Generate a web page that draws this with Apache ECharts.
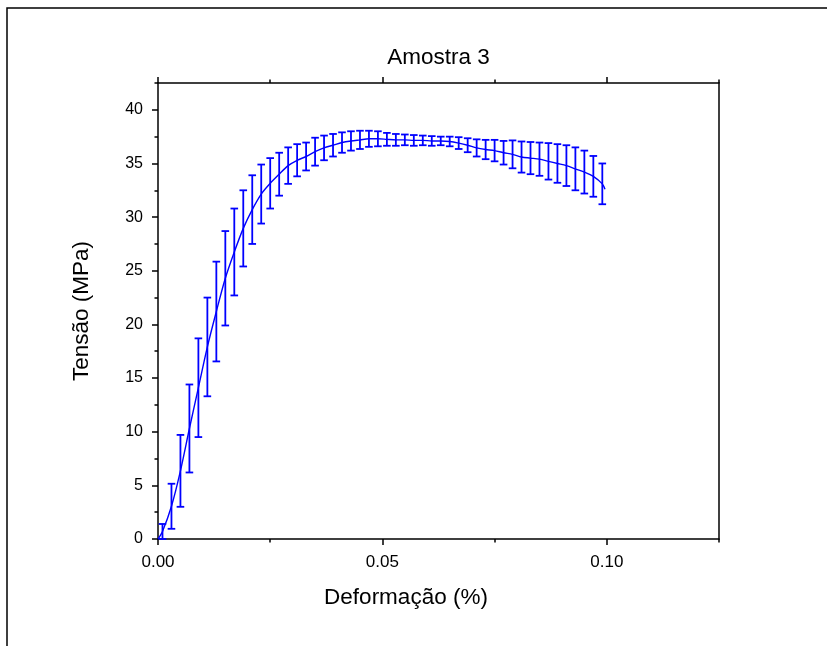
<!DOCTYPE html>
<html>
<head>
<meta charset="utf-8">
<title>Amostra 3</title>
<script src="https://cdn.jsdelivr.net/npm/echarts@6/dist/echarts.min.js"></script>
<style>
    html, body { margin: 0; padding: 0; background: #fff; }
    #chart { width: 827px; height: 646px; }
</style>
</head>
<body>
<div id="chart"></div>
<script>
    // deformação (%) dos pontos com barra de erro
    const strain = [
        0.001, 0.003, 0.005, 0.007, 0.009, 0.011, 0.013, 0.015, 0.017, 0.019,
        0.021, 0.023, 0.025, 0.027, 0.029, 0.031, 0.033, 0.035, 0.037, 0.039,
        0.041, 0.043, 0.045, 0.047, 0.049, 0.051, 0.053, 0.055, 0.057, 0.059,
        0.061, 0.063, 0.065, 0.067, 0.069, 0.071, 0.073, 0.075, 0.077, 0.079,
        0.081, 0.083, 0.085, 0.087, 0.089, 0.091, 0.093, 0.095, 0.097, 0.099
    ]
    // tensão média (MPa)
    const stress = [
        0.7, 3.05, 6.35, 10.3, 14.1, 17.9, 21.2, 24.3, 26.75, 28.95,
        30.7, 32.15, 33.15, 34.0, 34.8, 35.3, 35.65, 36.1, 36.45, 36.7,
        36.95, 37.1, 37.2, 37.3, 37.3, 37.25, 37.2, 37.2, 37.15, 37.15,
        37.1, 37.1, 37.05, 36.9, 36.7, 36.45, 36.3, 36.2, 36.0, 35.85,
        35.6, 35.5, 35.4, 35.2, 35.0, 34.8, 34.5, 34.2, 33.8, 33.1
    ]
    // desvio (MPa)
    const stressErr = [
        0.7, 2.1, 3.35, 4.1, 4.6, 4.6, 4.65, 4.4, 4.05, 3.55,
        3.2, 2.75, 2.35, 2.0, 1.7, 1.5, 1.3, 1.3, 1.15, 1.05,
        0.95, 0.9, 0.85, 0.75, 0.7, 0.6, 0.55, 0.5, 0.5, 0.45,
        0.45, 0.4, 0.45, 0.55, 0.65, 0.8, 0.9, 1.0, 1.1, 1.3,
        1.45, 1.5, 1.55, 1.7, 1.8, 1.9, 2.0, 2.0, 1.9, 1.9
    ]
    // inicio e fim da curva
    const curveStart = [0, 0]
    const curveEnd = [0.0996, 32.6]

    const xMajor = [0, 0.05, 0.10]
    const yMajor = [0, 5, 10, 15, 20, 25, 30, 35, 40]

    const FONT = 'Liberation Sans'
    const BLUE = '#0000ff'
    const NAME_SIZE = 22.5

    let curve = [curveStart]
    let bars = []
    for (let i = 0; i < strain.length; i++) {
        curve.push([strain[i], stress[i]])
        bars.push([strain[i], stress[i] - stressErr[i], stress[i] + stressErr[i]])
    }
    curve.push(curveEnd)

    const axisLine = { show: true, onZero: false, lineStyle: { color: '#000', width: 1.5 } }

    function xAxisBase (pos) {
        return {
            type: 'value', min: 0, max: 0.125, position: pos,
            axisLine: axisLine, splitLine: { show: false }
        }
    }
    function yAxisBase (pos) {
        return {
            type: 'value', min: 0, max: 42.5, position: pos,
            axisLine: axisLine, splitLine: { show: false }
        }
    }

    const chart = echarts.init(document.getElementById('chart'))
    chart.setOption({
        animation: false,
        backgroundColor: '#fff',
        textStyle: { fontFamily: FONT },
        grid: { left: 158, right: 108, top: 83, bottom: 107 },
        graphic: [
            {
                type: 'rect',
                shape: { x: 7, y: 8, width: 900, height: 700 },
                style: { fill: 'none', stroke: '#000', lineWidth: 1.5 },
                silent: true
            },
            {
                // nome do eixo x (não centrado no gráfico, como no original)
                type: 'text',
                x: 406,
                y: 598,
                style: {
                    text: 'Deformação (%)',
                    fill: '#000',
                    font: NAME_SIZE + 'px "Liberation Sans"',
                    align: 'center',
                    verticalAlign: 'middle',
                    textAlign: 'center',
                    textVerticalAlign: 'middle'
                },
                silent: true
            }
        ],
        xAxis: [
            Object.assign(xAxisBase('bottom'), {
                interval: 0.05,
                axisTick: { customValues: xMajor, length: 6, lineStyle: { color: '#000', width: 1.5 } },
                axisLabel: {
                    customValues: xMajor, margin: 15, fontSize: 17, color: '#000', fontFamily: FONT,
                    formatter: v => v.toFixed(2)
                }
            }),
            Object.assign(xAxisBase('bottom'), {
                interval: 0.025,
                axisLine: { show: false, onZero: false },
                axisTick: { length: 3.5, lineStyle: { color: '#000', width: 1.5 } },
                axisLabel: { show: false }
            }),
            Object.assign(xAxisBase('top'), {
                interval: 0.05,
                name: 'Amostra 3', nameLocation: 'middle', nameGap: 14,
                nameTextStyle: { fontSize: NAME_SIZE, color: '#000', fontFamily: FONT },
                axisTick: { customValues: xMajor, length: 6, lineStyle: { color: '#000', width: 1.5 } },
                axisLabel: { show: false }
            }),
            Object.assign(xAxisBase('top'), {
                interval: 0.025,
                axisLine: { show: false, onZero: false },
                axisTick: { length: 3.5, lineStyle: { color: '#000', width: 1.5 } },
                axisLabel: { show: false }
            })
        ],
        yAxis: [
            Object.assign(yAxisBase('left'), {
                interval: 5,
                name: 'Tensão (MPa)', nameLocation: 'middle', nameGap: 65, nameRotate: 90,
                nameTextStyle: { fontSize: NAME_SIZE, color: '#000', fontFamily: FONT },
                axisTick: { customValues: yMajor, length: 6, lineStyle: { color: '#000', width: 1.5 } },
                axisLabel: { customValues: yMajor, margin: 15, fontSize: 16, color: '#000', fontFamily: FONT }
            }),
            Object.assign(yAxisBase('left'), {
                interval: 2.5,
                axisLine: { show: false, onZero: false },
                axisTick: { length: 3.5, lineStyle: { color: '#000', width: 1.5 } },
                axisLabel: { show: false }
            }),
            Object.assign(yAxisBase('right'), {
                interval: 5,
                axisTick: { show: false },
                axisLabel: { show: false }
            })
        ],
        series: [
            {
                name: 'curva',
                type: 'line',
                xAxisIndex: 0,
                yAxisIndex: 0,
                data: curve,
                showSymbol: false,
                smooth: 0.3,
                lineStyle: { color: BLUE, width: 1.4 },
                z: 3
            },
            {
                name: 'erro',
                type: 'custom',
                xAxisIndex: 0,
                yAxisIndex: 0,
                data: bars,
                renderItem: function (params, api) {
                    let x = api.value(0)
                    let lo = api.coord([x, api.value(1)])
                    let hi = api.coord([x, api.value(2)])
                    let half = 3.8
                    let st = { stroke: BLUE, lineWidth: 1.8 }
                    return {
                        type: 'group',
                        children: [
                            { type: 'line', shape: { x1: hi[0], y1: hi[1], x2: lo[0], y2: lo[1] }, style: st },
                            { type: 'line', shape: { x1: hi[0] - half, y1: hi[1], x2: hi[0] + half, y2: hi[1] }, style: st },
                            { type: 'line', shape: { x1: lo[0] - half, y1: lo[1], x2: lo[0] + half, y2: lo[1] }, style: st }
                        ]
                    }
                },
                encode: { x: 0, y: [1, 2] },
                z: 4
            }
        ]
    })
</script>
</body>
</html>
